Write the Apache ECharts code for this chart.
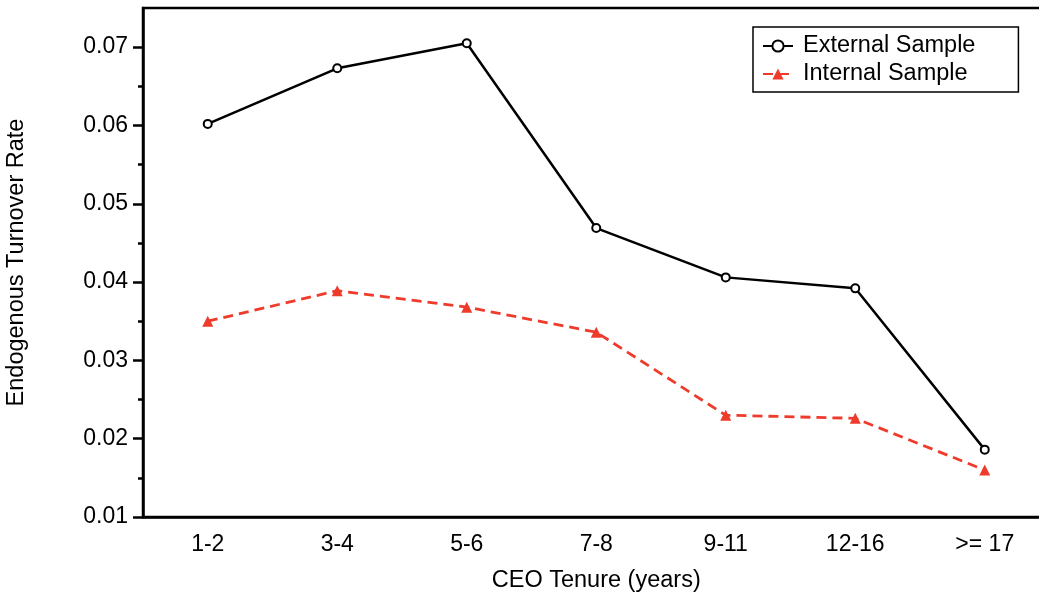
<!DOCTYPE html>
<html>
<head>
<meta charset="utf-8">
<script src="https://cdn.jsdelivr.net/npm/echarts@6/dist/echarts.min.js"></script>
<style>html,body{margin:0;padding:0;background:#fff;}#chart{width:1039px;height:596px;}</style>
</head>
<body>
<div id="chart"></div>
<script>
const categories = ['1-2', '3-4', '5-6', '7-8', '9-11', '12-16', '>= 17'];
const externalSample = [0.0602, 0.0673, 0.0705, 0.0469, 0.0406, 0.0392, 0.0186];
const internalSample = [0.0350, 0.0389, 0.0368, 0.0336, 0.0230, 0.0226, 0.0160];
const majorTicks = [0.01, 0.02, 0.03, 0.04, 0.05, 0.06, 0.07];
const minorTicks = [0.015, 0.025, 0.035, 0.045, 0.055, 0.065];
const tickLabels = ['0.01', '0.02', '0.03', '0.04', '0.05', '0.06', '0.07'];

const FONT = 'Liberation Sans, Arial, Helvetica, sans-serif';
const RED = '#EE3B2B';
const chart = echarts.init(document.getElementById('chart'), null, {renderer: 'canvas'});
chart.setOption({
  animation: false,
  backgroundColor: '#fff',
  textStyle: {fontFamily: FONT},
  grid: {left: 143, top: 8, width: 906.5, bottom: 79, outerBoundsMode: 'none', containLabel: false,
    show: true, borderColor: '#000', borderWidth: 2.5, backgroundColor: 'transparent'},
  legend: {
    orient: 'vertical', left: 753, top: 27,
    itemWidth: 30, itemHeight: 14, itemGap: 4,
    padding: [7, 43, 6, 9],
    borderColor: '#000', borderWidth: 1.5,
    textStyle: {fontFamily: FONT, fontSize: 23.5, color: '#000', padding: [0, 0, 0, 5]},
    data: ['External Sample', 'Internal Sample']
  },
  xAxis: {
    type: 'category', data: categories, boundaryGap: true,
    name: 'CEO Tenure (years)', nameLocation: 'middle', nameGap: 52,
    nameTextStyle: {fontFamily: FONT, fontSize: 23.5, color: '#000'},
    axisLine: {lineStyle: {color: '#000', width: 2.5}},
    axisTick: {show: false},
    axisLabel: {fontFamily: FONT, fontSize: 23, color: '#000', margin: 16},
    splitLine: {show: false}
  },
  yAxis: [{
    type: 'value', min: 0.01, max: 0.075,
    name: 'Endogenous Turnover Rate', nameLocation: 'middle', nameGap: 114,
    nameTextStyle: {fontFamily: FONT, fontSize: 23.5, color: '#000'},
    axisLine: {show: true, lineStyle: {color: '#000', width: 2.5}},
    axisTick: {show: true, length: 10, lineStyle: {color: '#000', width: 2.5}, customValues: majorTicks},
    axisLabel: {fontFamily: FONT, fontSize: 23, color: '#000', margin: 15, customValues: majorTicks,
      formatter: function (v) { const i = majorTicks.findIndex(m => Math.abs(m - v) < 1e-9); return i >= 0 ? tickLabels[i] : ''; }},
    splitLine: {show: false}
  }, {
    type: 'value', min: 0.01, max: 0.075, position: 'left',
    axisLine: {show: false},
    axisTick: {show: true, length: 5, lineStyle: {color: '#000', width: 2.5}, customValues: minorTicks},
    axisLabel: {show: false},
    splitLine: {show: false}
  }],
  series: [{
    name: 'External Sample', type: 'line', data: externalSample,
    symbol: 'emptyCircle', symbolSize: 8,
    lineStyle: {color: '#000', width: 2.5},
    itemStyle: {color: '#000', borderColor: '#000', borderWidth: 2.2},
    z: 3
  }, {
    name: 'Internal Sample', type: 'line', data: internalSample,
    symbol: 'triangle', symbolSize: 11,
    lineStyle: {color: RED, width: 2.8, type: [10, 6]},
    itemStyle: {color: RED},
    z: 2
  }]
});
</script>
</body>
</html>
